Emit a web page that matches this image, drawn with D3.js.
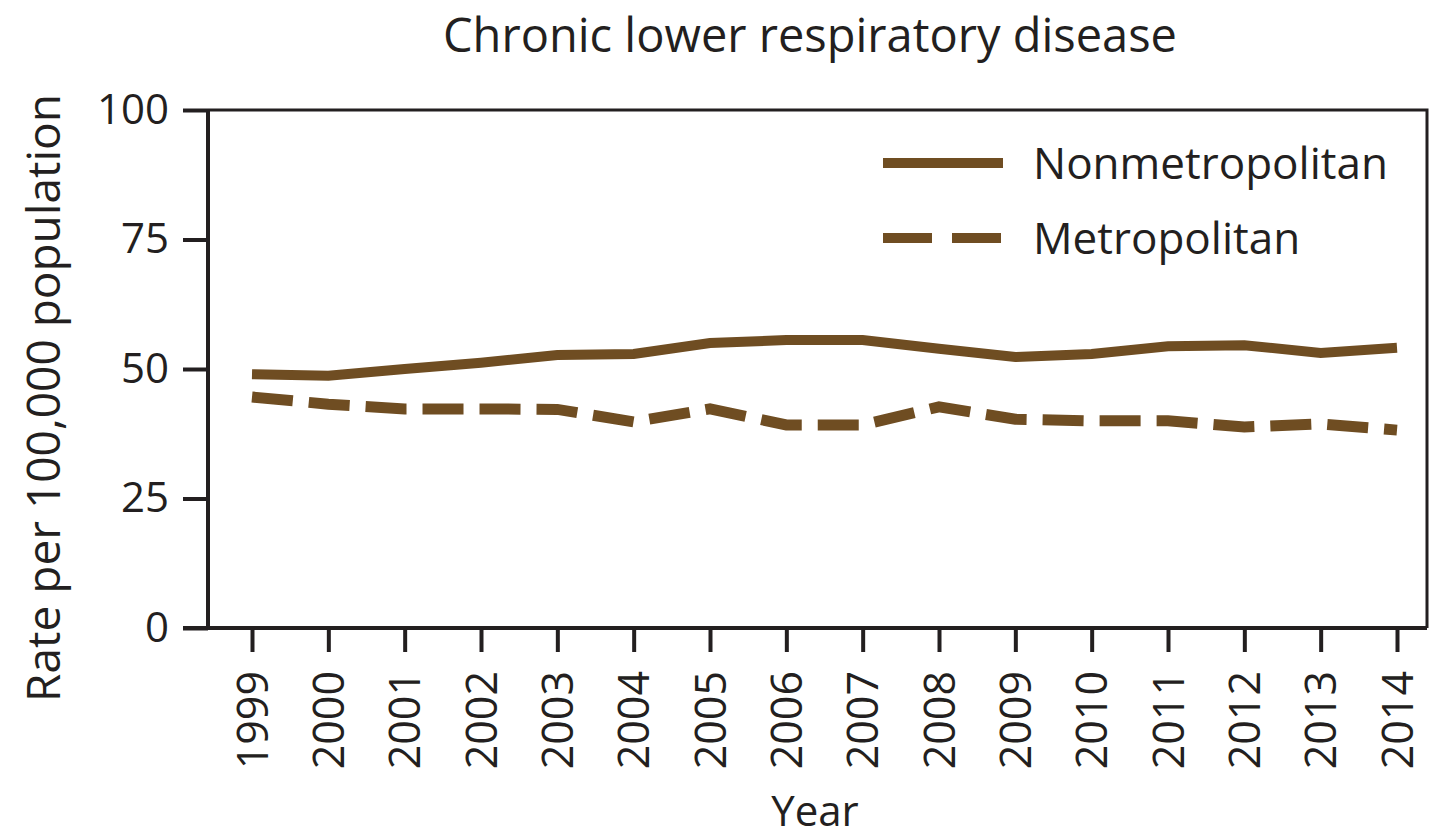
<!DOCTYPE html>
<html lang="en">
	<head>
		<meta charset="utf-8">
		<title>Chronic lower respiratory disease</title>
		<script type="text/javascript" src="https://cdn.jsdelivr.net/npm/d3@7"></script>
		<style type="text/css">
			body { margin: 0; background: #fff; }
			text { font-family: "Open Sans", "Noto Sans", sans-serif; fill: #231f20; }
		</style>
	</head>
	<body>
		<script type="text/javascript">

			//Data
			var years = [1999, 2000, 2001, 2002, 2003, 2004, 2005, 2006, 2007, 2008, 2009, 2010, 2011, 2012, 2013, 2014];
			var nonmetro = [49.0, 48.7, 50.0, 51.2, 52.7, 52.9, 55.0, 55.6, 55.6, 53.9, 52.3, 52.9, 54.4, 54.6, 53.1, 54.1];
			var metro = [44.6, 43.2, 42.3, 42.3, 42.2, 39.8, 42.3, 39.2, 39.2, 42.7, 40.3, 40.0, 40.0, 38.8, 39.4, 38.2];
			var yTicks = [0, 25, 50, 75, 100];
			var seriesNames = ["Nonmetropolitan", "Metropolitan"];

			//Width and height
			var w = 1433;
			var h = 839;
			var plotLeft = 208, plotRight = 1427, plotTop = 110, plotBottom = 628;
			var lineColor = "#6f4d22";
			var ink = "#231f20";

			var svg = d3.select("body")
						.append("svg")
						.attr("width", w)
						.attr("height", h);

			var x = d3.scaleLinear()
					  .domain([1999, 2014])
					  .range([252, 1397]);

			var y = d3.scaleLinear()
					  .domain([0, 100])
					  .range([plotBottom, plotTop]);

			//Frame top and right
			svg.append("path")
			   .attr("d", "M" + plotLeft + "," + plotTop + "H" + plotRight + "V" + plotBottom)
			   .attr("fill", "none")
			   .attr("stroke", ink)
			   .attr("stroke-width", 3);

			//Y axis
			var yAxis = svg.append("g")
						   .attr("transform", "translate(" + plotLeft + ",0)")
						   .call(d3.axisLeft(y).tickValues(yTicks).tickSize(25).tickPadding(14));
			yAxis.select(".domain").attr("stroke", ink).attr("stroke-width", 4).attr("d", "M0," + plotTop + "V" + plotBottom);
			yAxis.selectAll(".tick line").attr("stroke", ink).attr("stroke-width", 4);
			yAxis.selectAll(".tick text")
				 .attr("font-size", "42px")
				 .attr("font-family", "'Open Sans', sans-serif")
				 .attr("fill", ink);

			//X axis
			var xAxis = svg.append("g")
						   .attr("transform", "translate(0," + plotBottom + ")")
						   .call(d3.axisBottom(x).tickValues(years).tickFormat(d3.format("d")).tickSize(24));
			xAxis.select(".domain").attr("stroke", ink).attr("stroke-width", 4).attr("d", "M" + (plotLeft - 25) + ",0H" + plotRight);
			xAxis.selectAll(".tick line").attr("stroke", ink).attr("stroke-width", 4);
			xAxis.selectAll(".tick text")
				 .attr("font-size", "43px")
				 .attr("font-family", "'Open Sans', sans-serif")
				 .attr("fill", ink)
				 .attr("transform", "rotate(-90)")
				 .attr("text-anchor", "end")
				 .attr("x", -43)
				 .attr("y", 0)
				 .attr("dy", "0.35em");

			//Lines
			var line = d3.line()
						 .x(function(d, i) { return x(years[i]); })
						 .y(function(d) { return y(d); });

			svg.append("path")
			   .datum(nonmetro)
			   .attr("d", line)
			   .attr("fill", "none")
			   .attr("stroke", lineColor)
			   .attr("stroke-width", 10);

			svg.append("path")
			   .datum(metro)
			   .attr("d", line)
			   .attr("fill", "none")
			   .attr("stroke", lineColor)
			   .attr("stroke-width", 11)
			   .attr("stroke-dasharray", "41,16");

			//Legend
			var legend = svg.selectAll(".legend")
							.data(seriesNames)
							.enter()
							.append("g")
							.attr("class", "legend")
							.attr("transform", function(d, i) { return "translate(883," + (163 + i * 75) + ")"; });

			legend.append("line")
				  .attr("x1", 0)
				  .attr("x2", 120)
				  .attr("stroke", lineColor)
				  .attr("stroke-width", 10)
				  .attr("stroke-dasharray", function(d, i) { return i == 1 ? "49,20" : null; });

			legend.append("text")
				  .text(function(d) { return d; })
				  .attr("x", 150)
				  .attr("dy", "0.36em")
				  .attr("font-size", "44px");

			//Titles
			svg.append("text")
			   .text("Chronic lower respiratory disease")
			   .attr("x", 810)
			   .attr("y", 52)
			   .attr("text-anchor", "middle")
			   .attr("font-size", "47px");

			svg.append("text")
			   .text("Year")
			   .attr("x", 815)
			   .attr("y", 826)
			   .attr("text-anchor", "middle")
			   .attr("font-size", "42px");

			svg.append("text")
			   .text("Rate per 100,000 population")
			   .attr("transform", "translate(60,398) rotate(-90)")
			   .attr("text-anchor", "middle")
			   .attr("font-size", "46px");

		</script>
	</body>
</html>
